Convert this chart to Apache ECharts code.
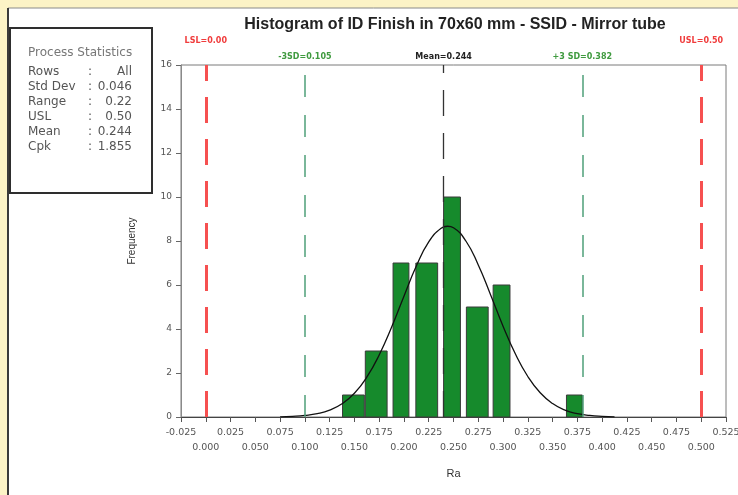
<!DOCTYPE html>
<html>
<head>
<meta charset="utf-8">
<script src="https://cdn.jsdelivr.net/npm/echarts@6/dist/echarts.min.js"></script>
<style>html,body{margin:0;padding:0;background:#fcf3c6;}#c{width:738px;height:495px;}</style>
</head>
<body>
<div id="c"></div>
<script>
// Histogram bins (Ra)
const binLow  = [0.138, 0.161, 0.189, 0.212, 0.240, 0.263, 0.290, 0.364];
const binHigh = [0.160, 0.183, 0.205, 0.234, 0.257, 0.285, 0.307, 0.380];
const counts  = [1, 3, 7, 7, 10, 5, 6, 1];

// Fitted normal curve
const curveX = [0.075, 0.0875, 0.100, 0.1125, 0.125, 0.1375, 0.150, 0.1625, 0.175, 0.1875, 0.200, 0.2125, 0.225, 0.2375, 0.244, 0.250, 0.2625, 0.275, 0.2875, 0.300, 0.3125, 0.325, 0.3375, 0.350, 0.3625, 0.375, 0.3875, 0.400, 0.4125];
const curveY = [0.01, 0.03, 0.07, 0.15, 0.31, 0.60, 1.08, 1.81, 2.82, 4.08, 5.49, 6.86, 7.96, 8.58, 8.67, 8.60, 8.00, 6.91, 5.55, 4.13, 2.86, 1.84, 1.10, 0.61, 0.31, 0.15, 0.07, 0.03, 0.01];

// Specification / statistics lines
const specNames  = ['LSL=0.00', '-3SD=0.105', 'Mean=0.244', '+3 SD=0.382', 'USL=0.50'];
const specValues = [0.00, 0.105, 0.244, 0.382, 0.50];

// Process statistics panel
const statLabels = ['Rows', 'Std Dev', 'Range', 'USL', 'Mean', 'Cpk'];
const statValues = ['All', '0.046', '0.22', '0.50', '0.244', '1.855'];

const xMin = -0.025, xMax = 0.525, xStep = 0.025;
const yMin = 0, yMax = 16, yStep = 2;

const specStyles = [
  {color: '#f65050', width: 3, type: [26, 16], text: '#f03c3c', dist: 20},
  {color: '#4fa07a', width: 1.5, type: [22, 18], text: '#3f9a3f', dist: 4},
  {color: '#333333', width: 1.3, type: [26, 17], text: '#222222', dist: 4},
  {color: '#4fa07a', width: 1.5, type: [22, 18], text: '#3f9a3f', dist: 4},
  {color: '#f65050', width: 3, type: [26, 16], text: '#f03c3c', dist: 20}
];

const chart = echarts.init(document.getElementById('c'), null, {renderer: 'canvas'});

const barData = counts.map((c, i) => [binLow[i], binHigh[i], c]);
const curveData = curveX.map((x, i) => [x, curveY[i]]);

const boxFont = '12px "DejaVu Sans", sans-serif';
const graphics = [
  {type: 'rect', z: -10, shape: {x: 8, y: 8, width: 740, height: 500},
   style: {fill: '#ffffff', stroke: '#8a8a8a', lineWidth: 1}},
  {type: 'line', z: -9, shape: {x1: 8, y1: 8, x2: 8, y2: 495}, style: {stroke: '#3a3a3a', lineWidth: 2}},
  {type: 'rect', z: 5, shape: {x: 10, y: 28, width: 142, height: 165},
   style: {fill: '#ffffff', stroke: '#2e2e2e', lineWidth: 2}},
  {type: 'text', z: 6, x: 28, y: 53, style: {text: 'Process Statistics', fill: '#777777', font: boxFont, verticalAlign: 'middle'}}
];
statLabels.forEach((lab, i) => {
  const y = 72 + i * 14.9;
  graphics.push({type: 'text', z: 6, x: 28, y: y, style: {text: lab, fill: '#555555', font: boxFont, verticalAlign: 'middle'}});
  graphics.push({type: 'text', z: 6, x: 88, y: y, style: {text: ':', fill: '#555555', font: boxFont, verticalAlign: 'middle'}});
  graphics.push({type: 'text', z: 6, x: 132, y: y, style: {text: statValues[i], fill: '#555555', font: boxFont, verticalAlign: 'middle', align: 'right'}});
});

const labelFont = '"DejaVu Sans", sans-serif';
function rowFormatter(wantEven) {
  return function (v) {
    const k = Math.round(v / xStep);
    const even = (k % 2 === 0);
    return even === wantEven ? v.toFixed(3) : '';
  };
}

const option = {
  backgroundColor: '#fcf3c6',
  animation: false,
  title: {
    text: 'Histogram of ID Finish in 70x60 mm - SSID - Mirror tube',
    left: 450, top: 12, textAlign: 'center',
    textStyle: {fontFamily: '"Liberation Sans", Arial, sans-serif', fontSize: 16, fontWeight: 'bold', color: '#222222'}
  },
  grid: {left: 181, right: 12, top: 65, bottom: 78, show: true, borderColor: '#7a7a7a', borderWidth: 1,
         backgroundColor: 'transparent', containLabel: false, outerBoundsMode: 'none'},
  xAxis: [{
    type: 'value', min: xMin, max: xMax, interval: xStep,
    name: 'Ra', nameLocation: 'middle', nameGap: 51,
    nameTextStyle: {fontFamily: '"Liberation Sans", Arial, sans-serif', fontSize: 11, color: '#333333'},
    axisLine: {show: true, onZero: false, lineStyle: {color: '#444444', width: 1}},
    axisTick: {show: true, length: 5, lineStyle: {color: '#555555'}},
    splitLine: {show: false},
    axisLabel: {margin: 11, fontSize: 9.5, color: '#555555', fontFamily: labelFont, hideOverlap: false,
                showMaxLabel: true, showMinLabel: true, formatter: rowFormatter(false)}
  }, {
    type: 'value', min: xMin, max: xMax, interval: xStep, position: 'bottom', offset: 0,
    axisLine: {show: false, onZero: false}, axisTick: {show: false}, splitLine: {show: false},
    axisLabel: {margin: 26, fontSize: 9.5, color: '#555555', fontFamily: labelFont, hideOverlap: false,
                showMaxLabel: true, showMinLabel: true, formatter: rowFormatter(true)}
  }],
  yAxis: {
    type: 'value', min: yMin, max: yMax, interval: yStep,
    name: 'Frequency', nameLocation: 'middle', nameGap: 44,
    nameTextStyle: {fontFamily: '"Liberation Sans", Arial, sans-serif', fontSize: 10, color: '#333333'},
    axisLine: {show: true, onZero: false, lineStyle: {color: '#8a8a8a', width: 1}},
    axisTick: {show: true, length: 5, lineStyle: {color: '#666666'}},
    splitLine: {show: false},
    axisLabel: {margin: 9, fontSize: 9, color: '#555555', fontFamily: labelFont}
  },
  graphic: graphics,
  series: [
    {
      type: 'custom', z: 2, xAxisIndex: 0,
      data: barData,
      encode: {x: [0, 1], y: 2},
      renderItem: function (params, api) {
        const p0 = api.coord([api.value(0), api.value(2)]);
        const p1 = api.coord([api.value(1), 0]);
        return {
          type: 'rect',
          shape: {x: p0[0], y: p0[1], width: p1[0] - p0[0], height: p1[1] - p0[1]},
          style: {fill: '#168a2c', stroke: '#3a3a3a', lineWidth: 1}
        };
      }
    },
    {
      type: 'line', z: 4, smooth: true, showSymbol: false, silent: true, xAxisIndex: 0,
      data: curveData,
      lineStyle: {color: '#111111', width: 1.3},
      markLine: {
        silent: true, symbol: ['none', 'none'], animation: false,
        data: specValues.map((v, i) => ({
          xAxis: v,
          lineStyle: {color: specStyles[i].color, width: specStyles[i].width, type: specStyles[i].type},
          label: {show: true, position: 'end', formatter: specNames[i], distance: specStyles[i].dist,
                  color: specStyles[i].text, fontSize: 8, fontWeight: 'bold', fontFamily: labelFont}
        }))
      }
    }
  ]
};
chart.setOption(option);
</script>
</body>
</html>
